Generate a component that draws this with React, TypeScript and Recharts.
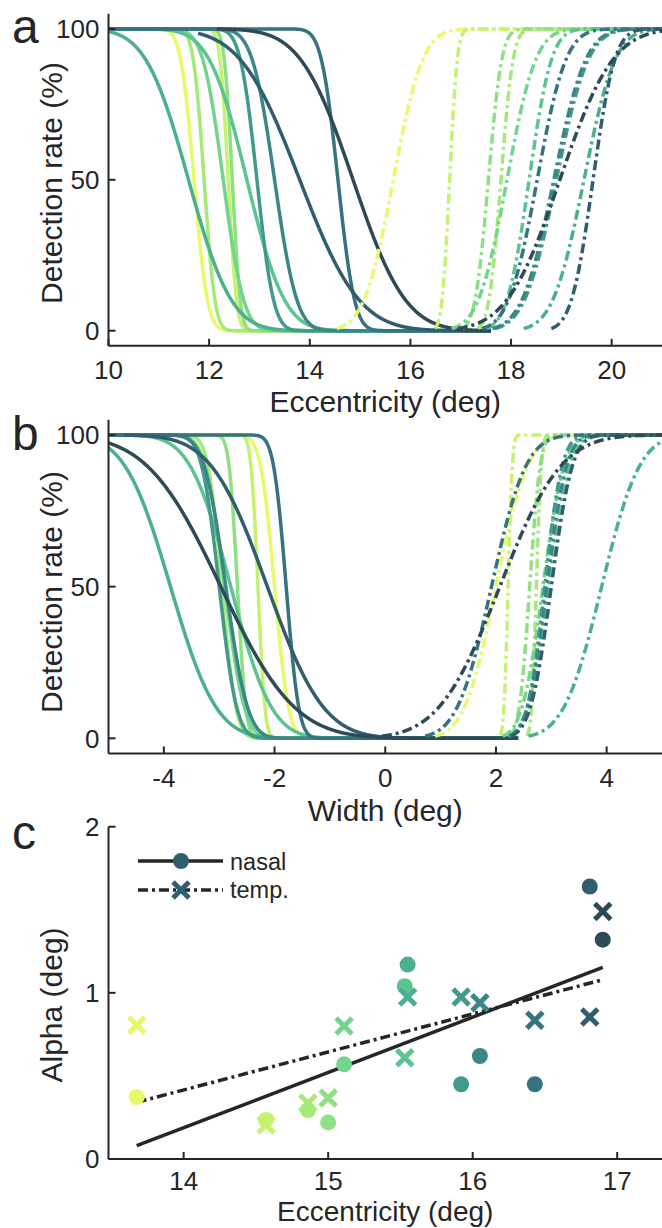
import React from 'react';
import { LineChart, Line, XAxis, YAxis, ComposedChart, Scatter, ReferenceLine } from 'recharts';

const FONT = '"Liberation Sans", Arial, Helvetica, sans-serif';
const INK = '#262626';

// ---- subjects (ordered by blind-spot eccentricity) ----
const subjectColors = ['#e6fa6a', '#c6f26f', '#a7e979', '#8de184', '#72d48d', '#5dc491', '#4caf8e', '#429b8a', '#3c8786', '#37737e', '#315e6e', '#2d4a56'];
const subjectEccentricity = [13.675, 14.57, 14.86, 15.0, 15.11, 15.53, 15.55, 15.92, 16.05, 16.43, 16.81, 16.9];
const alphaNasal = [0.373, 0.235, 0.295, 0.22, 0.57, 1.04, 1.17, 0.45, 0.62, 0.45, 1.64, 1.32];
const alphaTemporal = [0.807, 0.205, 0.337, 0.367, 0.8, 0.61, 0.975, 0.975, 0.94, 0.835, 0.855, 1.49];

// ---- panel a: fitted psychometric functions vs eccentricity ----
const nasalEdgeEcc = [11.7, 12.38, 11.9, 12.46, 12.28, 12.75, 11.59, 12.95, 13.3, 14.56, 13.8, 14.86];
const nasalSpreadEcc = [0.21, 0.13, 0.17, 0.125, 0.32, 0.59, 0.67, 0.26, 0.35, 0.26, 0.93, 0.82];
const nasalStartEcc = [10, 10, 10, 10, 10, 10, 10, 10, 10, 10, 11.78, 12.15];
const nasalEndEcc = 17.6;
const temporalEdgeEcc = [15.66, 16.78, 17.8, 17.55, 17.92, 18.36, 19.45, 18.9, 18.85, 18.52, 19.63, 18.97];
const temporalSpreadEcc = [0.46, 0.12, 0.19, 0.21, 0.45, 0.35, 0.49, 0.5, 0.5, 0.45, 0.34, 0.83];

// ---- panel b: fitted psychometric functions vs width ----
const nasalEdgeWidth = [-2.0, -2.3, -2.95, -2.67, -2.9, -2.79, -3.88, -3.0, -2.88, -1.79, -2.13, -2.97];
const nasalSpreadWidth = [0.2, 0.1, 0.2, 0.12, 0.28, 0.58, 0.65, 0.25, 0.31, 0.18, 0.8, 1.05];
const nasalStartWidth = [-5, -5, -5, -5, -5, -5, -5, -5, -5, -5, -4.72, -5];
const nasalEndWidth = 2.4;
const temporalEdgeWidth = [2.0, 2.22, 2.73, 2.61, 2.85, 2.95, 3.91, 2.88, 2.92, 1.92, 3.0, 2.07];
const temporalSpreadWidth = [0.45, 0.06, 0.07, 0.15, 0.3, 0.3, 0.54, 0.25, 0.28, 0.49, 0.3, 0.87];

// ---- ticks ----
const eccTicks = [10, 12, 14, 16, 18, 20];
const widthTicks = [-4, -2, 0, 2, 4];
const rateTicks = [0, 50, 100];
const alphaEccTicks = [14, 15, 16, 17];
const alphaTicks = [0, 1, 2];

function erf(v: number) {
  const sign = v < 0 ? -1 : 1;
  const a = Math.abs(v);
  const t = 1 / (1 + 0.3275911 * a);
  const y = 1 - ((((1.061405429 * t - 1.453152027) * t + 1.421413741) * t - 0.284496736) * t + 0.254829592) * t * Math.exp(-a * a);
  return sign * y;
}
const phi = (z: number) => 0.5 * (1 + erf(z / Math.SQRT2));

function buildCurves(
  xMin: number, xMax: number,
  nEdge: number[], nSpread: number[], nStart: number[], nEnd: number,
  tEdge: number[], tSpread: number[]
) {
  const step = 0.01;
  const n = Math.round((xMax - xMin) / step);
  const rows: any[] = [];
  for (let i = 0; i <= n; i++) {
    const x = Math.round((xMin + i * step) * 1000) / 1000;
    const row: any = { x };
    for (let s = 0; s < nEdge.length; s++) {
      if (x >= nStart[s] - 1e-9 && x <= nEnd + 1e-9) row['n' + s] = 100 * (1 - phi((x - nEdge[s]) / nSpread[s]));
      const tStart = tEdge[s] - 2.45 * tSpread[s];
      if (x >= tStart) row['t' + s] = 100 * phi((x - tEdge[s]) / tSpread[s]);
    }
    rows.push(row);
  }
  return rows;
}

const dataA = buildCurves(10, 21, nasalEdgeEcc, nasalSpreadEcc, nasalStartEcc, nasalEndEcc, temporalEdgeEcc, temporalSpreadEcc);
const dataB = buildCurves(-5, 5, nasalEdgeWidth, nasalSpreadWidth, nasalStartWidth, nasalEndWidth, temporalEdgeWidth, temporalSpreadWidth);

function olsFit(xs: number[], ys: number[]) {
  const n = xs.length;
  const mx = xs.reduce((a, b) => a + b, 0) / n;
  const my = ys.reduce((a, b) => a + b, 0) / n;
  let sxy = 0, sxx = 0;
  for (let i = 0; i < n; i++) { sxy += (xs[i] - mx) * (ys[i] - my); sxx += (xs[i] - mx) * (xs[i] - mx); }
  const slope = sxy / sxx;
  const x0 = Math.min(...xs), x1 = Math.max(...xs);
  return [{ x: x0, y: my + slope * (x0 - mx) }, { x: x1, y: my + slope * (x1 - mx) }];
}
const nasalFit = olsFit(subjectEccentricity, alphaNasal);
const temporalFit = olsFit(subjectEccentricity, alphaTemporal);
const nasalPoints = subjectEccentricity.map((x, i) => ({ x, y: alphaNasal[i], s: i }));
const temporalPoints = subjectEccentricity.map((x, i) => ({ x, y: alphaTemporal[i], s: i }));

const DASHDOT = '10 4 3 4';

const XTick = (props: any) => {
  const { x, y, payload, offset } = props;
  return (
    <g>
      <line x1={x} x2={x} y1={y} y2={y - 7} stroke={INK} strokeWidth={2} />
      <text x={x} y={y + (offset ?? 33)} textAnchor="middle" fontSize={26} fontFamily={FONT} fill={INK}>{String(payload.value)}</text>
    </g>
  );
};
const YTick = (props: any) => {
  const { x, y, payload } = props;
  return (
    <g>
      <line x1={x} x2={x + 7} y1={y} y2={y} stroke={INK} strokeWidth={2} />
      <text x={x - 9} y={y + 9.3} textAnchor="end" fontSize={26} fontFamily={FONT} fill={INK}>{String(payload.value)}</text>
    </g>
  );
};

const Texts = ({ letter, letterY, yLabel, yLabelY, xLabel, xLabelY }: any) => (
  <g fontFamily={FONT} fill={INK}>
    <text x={12} y={letterY} fontSize={48} fill={INK} fontFamily={FONT}>{letter}</text>
    <text x={62} y={yLabelY} fontSize={30} textAnchor="middle" fill={INK} fontFamily={FONT} transform={`rotate(-90, 62, ${yLabelY})`}>{yLabel}</text>
    <text x={385.25} y={xLabelY} fontSize={30} textAnchor="middle" fill={INK} fontFamily={FONT}>{xLabel}</text>
  </g>
);

function CurvePanel({ top, height, plotTop, xAxisHeight, data, domain, ticks, letter, letterY, yLabelY, xLabel, xLabelY }: any) {
  return (
    <div style={{ position: 'absolute', left: 0, top }}>
      <LineChart width={662} height={height} data={data} margin={{ top: plotTop, right: 0, bottom: 0, left: 0 }}>
        <XAxis type="number" dataKey="x" domain={domain} ticks={ticks} interval={0} allowDataOverflow height={xAxisHeight}
          tickSize={0} tickMargin={0} tickLine={false} tick={(p: any) => <XTick {...p} offset={33} />} axisLine={{ stroke: INK, strokeWidth: 2 }} />
        <YAxis type="number" domain={[-5, 105]} ticks={rateTicks} interval={0} allowDataOverflow width={108.5}
          tickSize={0} tickMargin={0} tickLine={false} tick={(p: any) => <YTick {...p} />} axisLine={{ stroke: INK, strokeWidth: 2 }} />
        {subjectColors.map((c, i) => (
          <Line key={'n' + i} type="linear" dataKey={'n' + i} stroke={c} strokeWidth={3.5} dot={false} activeDot={false} isAnimationActive={false} />
        ))}
        {subjectColors.map((c, i) => (
          <Line key={'t' + i} type="linear" dataKey={'t' + i} stroke={c} strokeWidth={3.5} strokeDasharray={DASHDOT} dot={false} activeDot={false} isAnimationActive={false} />
        ))}
        <Texts letter={letter} letterY={letterY} yLabel="Detection rate (%)" yLabelY={yLabelY} xLabel={xLabel} xLabelY={xLabelY} />
      </LineChart>
    </div>
  );
}

const CircleShape = (props: any) => {
  const { cx, cy, payload } = props;
  return <circle cx={cx} cy={cy} r={8} fill={subjectColors[payload.s]} />;
};
const Cross = ({ cx, cy, color }: any) => (
  <g stroke={color} strokeWidth={5}>
    <line x1={cx - 8} y1={cy - 8} x2={cx + 8} y2={cy + 8} />
    <line x1={cx - 8} y1={cy + 8} x2={cx + 8} y2={cy - 8} />
  </g>
);
const CrossShape = (props: any) => {
  const { cx, cy, payload } = props;
  return <Cross cx={cx} cy={cy} color={subjectColors[payload.s]} />;
};

function AlphaPanel() {
  const legendColor = subjectColors[10];
  return (
    <div style={{ position: 'absolute', left: 0, top: 790 }}>
      <ComposedChart width={662} height={438} margin={{ top: 36.7, right: 0, bottom: 0, left: 0 }}>
        <XAxis type="number" dataKey="x" domain={[13.48, 17.31]} ticks={alphaEccTicks} interval={0} allowDataOverflow height={69}
          tickSize={0} tickMargin={0} tickLine={false} tick={(p: any) => <XTick {...p} offset={31} />} axisLine={{ stroke: INK, strokeWidth: 2 }} />
        <YAxis type="number" dataKey="y" domain={[0, 2]} ticks={alphaTicks} interval={0} allowDataOverflow width={108.5}
          tickSize={0} tickMargin={0} tickLine={false} tick={(p: any) => <YTick {...p} />} axisLine={{ stroke: INK, strokeWidth: 2 }} />
        <ReferenceLine segment={nasalFit} stroke={INK} strokeWidth={3.5} ifOverflow="visible" />
        <ReferenceLine segment={temporalFit} stroke={INK} strokeWidth={3.5} strokeDasharray={DASHDOT} ifOverflow="visible" />
        <Scatter data={nasalPoints} shape={CircleShape} isAnimationActive={false} />
        <Scatter data={temporalPoints} shape={CrossShape} isAnimationActive={false} />
        <g>
          <line x1={138} x2={223} y1={71} y2={71} stroke={INK} strokeWidth={3.5} />
          <circle cx={181} cy={71} r={8} fill={legendColor} />
          <text x={230} y={80} fontSize={23.5} fontFamily={FONT} fill={INK}>nasal</text>
          <line x1={138} x2={223} y1={100} y2={100} stroke={INK} strokeWidth={3.5} strokeDasharray={DASHDOT} />
          <Cross cx={181} cy={100} color={legendColor} />
          <text x={230} y={108} fontSize={23.5} fontFamily={FONT} fill={INK}>temp.</text>
        </g>
        <g>
          <text x={12} y={59} fontSize={48} fill={INK} fontFamily={FONT}>c</text>
          <text x={62} y={215} fontSize={30} textAnchor="middle" fill={INK} fontFamily={FONT} transform="rotate(-90, 62, 215)">Alpha (deg)</text>
          <text x={385.25} y={431} fontSize={28} textAnchor="middle" fill={INK} fontFamily={FONT}>Eccentricity (deg)</text>
        </g>
      </ComposedChart>
    </div>
  );
}

export default function App() {
  return (
    <div style={{ position: 'absolute', left: 0, top: 0, width: 662, height: 1228, background: '#fff', fontFamily: FONT }}>
      <CurvePanel top={0} height={420} plotTop={13.8} xAxisHeight={74.2} data={dataA} domain={[10, 21]} ticks={eccTicks}
        letter="a" letterY={43} yLabelY={183} xLabel="Eccentricity (deg)" xLabelY={412} />
      <CurvePanel top={400} height={430} plotTop={19.8} xAxisHeight={76.5} data={dataB} domain={[-5, 5]} ticks={widthTicks}
        letter="b" letterY={50} yLabelY={192} xLabel="Width (deg)" xLabelY={421} />
      <AlphaPanel />
    </div>
  );
}
